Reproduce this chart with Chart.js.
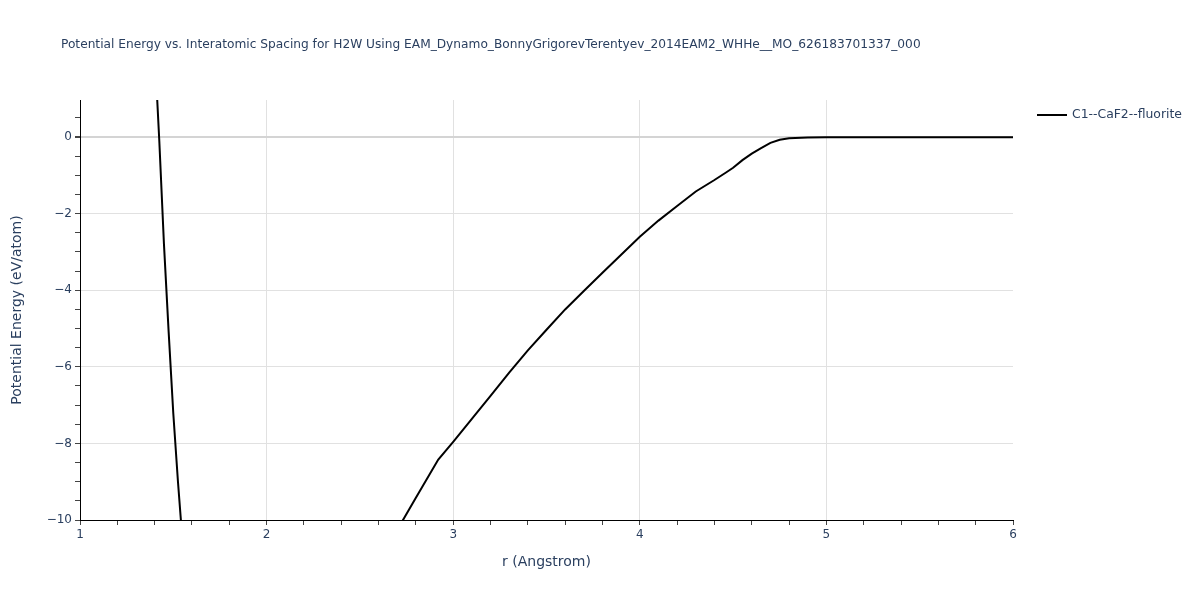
<!DOCTYPE html>
<html>
<head>
<meta charset="utf-8">
<script src="https://cdn.jsdelivr.net/npm/chart.js@4/dist/chart.umd.min.js"></script>
<style>
    html, body { margin: 0; padding: 0; background: #fff; }
    #wrap { width: 1200px; height: 600px; position: relative; }
</style>
</head>
<body>
<div id="wrap"><canvas id="energyChart"></canvas></div>
<script>
// ------------------------------------------------------------
// Data
// ------------------------------------------------------------
const chartTitle = 'Potential Energy vs. Interatomic Spacing for H2W Using EAM_Dynamo_BonnyGrigorevTerentyev_2014EAM2_WHHe__MO_626183701337_000';
const seriesName = 'C1--CaF2--fluorite';
const xAxisTitle = 'r (Angstrom)';
const yAxisTitle = 'Potential Energy (eV/atom)';

const rValues = [
    1.40, 1.425, 1.45, 1.475, 1.50, 1.525, 1.55,
    2.70, 2.80, 2.92, 3.00, 3.10, 3.20, 3.30, 3.40, 3.50, 3.60, 3.70, 3.80, 3.90,
    4.00, 4.10, 4.20, 4.30, 4.40, 4.46, 4.50, 4.55, 4.60, 4.65, 4.70, 4.75, 4.80,
    4.90, 5.00, 5.50, 6.00
];
const energyValues = [
    2.30, -0.10, -2.80, -5.08, -7.22, -9.00, -10.60,
    -10.26, -9.42, -8.42, -7.96, -7.36, -6.76, -6.15, -5.57, -5.03, -4.50, -4.02, -3.54, -3.07,
    -2.60, -2.18, -1.80, -1.42, -1.12, -0.93, -0.80, -0.60, -0.43, -0.29, -0.15, -0.07, -0.03,
    -0.01, 0.00, 0.00, 0.00
];

const xMajorTicks = [1, 2, 3, 4, 5, 6];
const yMajorTicks = [0, -2, -4, -6, -8, -10];
const xRange = [1, 6];
const yRange = [-10, 0.97];

// ------------------------------------------------------------
// Styling
// ------------------------------------------------------------
const FONT = "'DejaVu Sans', Verdana, sans-serif";
const TEXT_COLOR = '#2a3f5f';
const GRID_COLOR = '#e1e1e1';
const ZERO_COLOR = '#d4d4d4';

const isOn = (v, list) => list.some(t => Math.abs(t - v) < 1e-6);
const fmt = v => (v < 0 ? '\u2212' + Math.abs(v) : String(v));

function stepTicks(from, to, step) {
    const out = [];
    for (let i = 0; from + i * step <= to + 1e-9; i++) {
        out.push({ value: Math.round((from + i * step) * 1000) / 1000 });
    }
    return out;
}

// title + legend drawn outside the plot area
const decorPlugin = {
    id: 'decor',
    afterDraw(chart) {
        const c = chart.ctx;
        c.save();
        c.fillStyle = TEXT_COLOR;
        c.font = `12.2px ${FONT}`;
        c.textBaseline = 'middle';
        c.textAlign = 'left';
        c.fillText(chartTitle, 61, 45);

        const ds = chart.data.datasets[0];
        c.strokeStyle = ds.borderColor;
        c.lineWidth = ds.borderWidth;
        c.beginPath();
        c.moveTo(1037, 115);
        c.lineTo(1067, 115);
        c.stroke();
        c.font = `12.4px ${FONT}`;
        c.fillText(seriesName, 1072, 115);
        c.restore();
    }
};

new Chart(document.getElementById('energyChart'), {
    type: 'line',
    data: {
        datasets: [{
            label: seriesName,
            data: rValues.map((r, i) => ({ x: r, y: energyValues[i] })),
            borderColor: '#000000',
            borderWidth: 2,
            pointRadius: 0,
            tension: 0,
            fill: false
        }]
    },
    plugins: [decorPlugin],
    options: {
        responsive: true,
        maintainAspectRatio: false,
        animation: false,
        layout: { padding: { top: 100, right: 187, left: 0, bottom: 0 } },
        plugins: {
            legend: { display: false },
            title: { display: false },
            tooltip: { enabled: false }
        },
        scales: {
            x: {
                type: 'linear',
                min: xRange[0],
                max: xRange[1],
                afterFit: scale => { scale.height = 80; },
                afterBuildTicks: scale => { scale.ticks = stepTicks(xRange[0], xRange[1], 0.2); },
                border: { display: true, color: '#000', width: 1 },
                grid: {
                    drawTicks: true,
                    tickLength: 5,
                    tickColor: '#444',
                    lineWidth: 1,
                    color: ctx => {
                        const v = ctx.tick ? ctx.tick.value : null;
                        if (v === null || v === xRange[0] || v === xRange[1]) return 'rgba(0,0,0,0)';
                        return isOn(v, xMajorTicks) ? GRID_COLOR : 'rgba(0,0,0,0)';
                    }
                },
                ticks: {
                    autoSkip: false,
                    maxRotation: 0,
                    padding: 3,
                    color: TEXT_COLOR,
                    font: { family: FONT, size: 12 },
                    callback: v => (isOn(v, xMajorTicks) ? fmt(v) : '')
                },
                title: {
                    display: true,
                    text: xAxisTitle,
                    color: TEXT_COLOR,
                    font: { family: FONT, size: 14 },
                    padding: { top: 0, bottom: 29 }
                }
            },
            y: {
                type: 'linear',
                min: yRange[0],
                max: yRange[1],
                afterFit: scale => { scale.width = 80; },
                afterBuildTicks: scale => { scale.ticks = stepTicks(yRange[0], 0.5, 0.5); },
                border: { display: true, color: '#000', width: 1 },
                grid: {
                    drawTicks: true,
                    tickLength: 5,
                    tickColor: '#444',
                    lineWidth: ctx => (ctx.tick && ctx.tick.value === 0 ? 2 : 1),
                    color: ctx => {
                        const v = ctx.tick ? ctx.tick.value : null;
                        if (v === null || v === yRange[0]) return 'rgba(0,0,0,0)';
                        if (v === 0) return ZERO_COLOR;
                        return isOn(v, yMajorTicks) ? GRID_COLOR : 'rgba(0,0,0,0)';
                    }
                },
                ticks: {
                    autoSkip: false,
                    padding: 3,
                    color: TEXT_COLOR,
                    font: { family: FONT, size: 12 },
                    callback: v => (isOn(v, yMajorTicks) ? fmt(v) : '')
                },
                title: {
                    display: true,
                    text: yAxisTitle,
                    color: TEXT_COLOR,
                    font: { family: FONT, size: 14 },
                    padding: { top: 9, bottom: 0 }
                }
            }
        }
    }
});
</script>
</body>
</html>
